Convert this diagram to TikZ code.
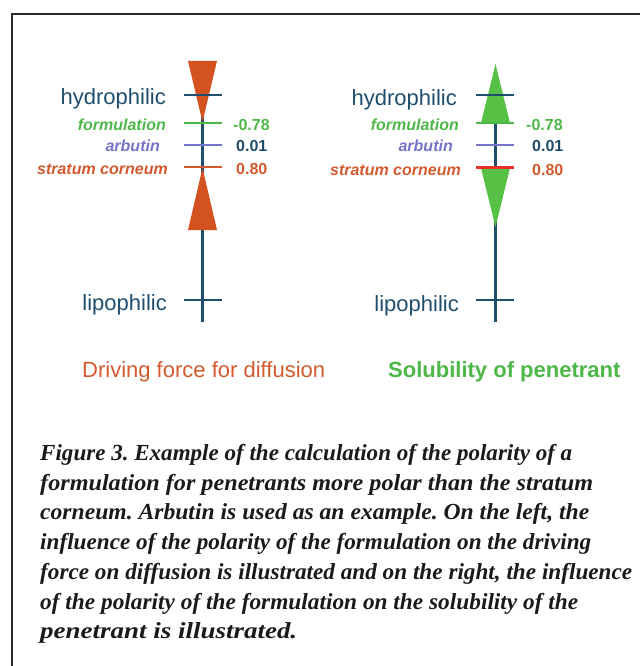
\documentclass[tikz,border=0pt]{standalone}
\usepackage{fontspec}
\setmainfont{Liberation Serif}
\setsansfont{Liberation Sans}
\usepackage{graphicx}
\frenchspacing
\definecolor{axisblue}{HTML}{1E4E6E}
\definecolor{labred}{HTML}{D35A2E}
\definecolor{trired}{HTML}{D4521F}
\definecolor{labgreen}{HTML}{4DB748}
\definecolor{trigreen}{HTML}{57C146}
\definecolor{arbpurple}{HTML}{7474C8}
\definecolor{brightred}{HTML}{E8302A}
\definecolor{framecol}{HTML}{2A2A2A}
\definecolor{capcol}{HTML}{1A1A1A}
\begin{document}
\begin{tikzpicture}[x=1pt,y=-1pt,
  lab/.style={font=\sffamily\fontsize{22}{22}\selectfont, text=axisblue, inner sep=0pt, anchor=base east},
  sub/.style={font=\sffamily\bfseries\itshape\fontsize{16}{16}\selectfont, inner sep=0pt, anchor=base east},
  num/.style={font=\sffamily\bfseries\fontsize{16}{16}\selectfont, inner sep=0pt, anchor=base west},
  bottomlab/.style={font=\sffamily\fontsize{22}{22}\selectfont, inner sep=0pt, anchor=base west},
  axisline/.style={draw=axisblue, line width=2.5pt},
  tickline/.style={line width=2.2pt},
  capline/.style={font=\bfseries\itshape\fontsize{23}{23}\selectfont, text=capcol, inner sep=0pt, anchor=base west}]
\useasboundingbox (0,0) rectangle (640,666);
% frame
\draw[framecol, line width=1.6pt] (12,666) -- (12,14) -- (640,14);

% ---------- left diagram ----------
\coordinate (Ltop) at (202.5,84);
\coordinate (Lbot) at (202.5,322);
\draw[axisline] (Ltop) -- (Lbot);
\fill[trired] (188,61) -- (217,61) -- (202.5,122) -- cycle;
\fill[trired] (202.5,168) -- (217,230) -- (188,230) -- cycle;
\coordinate (Lh1) at (184,95);  \coordinate (Lh2) at (222,95);
\coordinate (Lf1) at (184,123); \coordinate (Lf2) at (222,123);
\coordinate (La1) at (184,145); \coordinate (La2) at (222,145);
\coordinate (Ls1) at (184,167); \coordinate (Ls2) at (222,167);
\coordinate (Ll1) at (184,300); \coordinate (Ll2) at (222,300);
\draw[tickline, axisblue] (Lh1) -- (Lh2);
\draw[tickline, labgreen, line width=2pt] (Lf1) -- (Lf2);
\draw[tickline, arbpurple, line width=2pt] (La1) -- (La2);
\draw[tickline, labred, line width=2pt] (Ls1) -- (Ls2);
\draw[tickline, axisblue] (Ll1) -- (Ll2);
\node[lab] (Lhyd) at (166,105) {hydrophilic};
\node[sub, text=labgreen] (Lform) at (166,130) {formulation};
\node[sub, text=arbpurple] (Larb) at (160,151.5) {arbutin};
\node[sub, text=labred] (Lsc) at (168,174) {stratum corneum};
\node[lab] (Llip) at (167,310) {lipophilic};
\node[num, text=labgreen] (Lnf) at (233,130) {-0.78};
\node[num, text=axisblue] (Lna) at (236,151.5) {0.01};
\node[num, text=labred] (Lns) at (236,174) {0.80};
\node[bottomlab, text=labred] (Ltitle) at (82,377) {Driving force for diffusion};

% ---------- right diagram ----------
\coordinate (Rtop) at (495.5,84);
\coordinate (Rbot) at (495.5,322);
\draw[axisline] (Rtop) -- (Rbot);
\fill[trigreen] (495.5,64) -- (510,123) -- (481,123) -- cycle;
\fill[trigreen] (481,168) -- (510,168) -- (495.5,227) -- cycle;
\coordinate (Rh1) at (476,95);  \coordinate (Rh2) at (514,95);
\coordinate (Rf1) at (476,123); \coordinate (Rf2) at (514,123);
\coordinate (Ra1) at (476,145); \coordinate (Ra2) at (514,145);
\coordinate (Rs1) at (476,167.5); \coordinate (Rs2) at (514,167.5);
\coordinate (Rl1) at (476,300); \coordinate (Rl2) at (514,300);
\draw[tickline, axisblue] (Rh1) -- (Rh2);
\draw[tickline, labgreen, line width=2pt] (Rf1) -- (Rf2);
\draw[tickline, arbpurple, line width=2pt] (Ra1) -- (Ra2);
\draw[tickline, brightred, line width=3pt] (Rs1) -- (Rs2);
\draw[tickline, axisblue] (Rl1) -- (Rl2);
\node[lab] (Rhyd) at (457,106) {hydrophilic};
\node[sub, text=labgreen] (Rform) at (459,131) {formulation};
\node[sub, text=arbpurple] (Rarb) at (453,151.5) {arbutin};
\node[sub, text=labred] (Rsc) at (461,175) {stratum corneum};
\node[lab] (Rlip) at (459,311) {lipophilic};
\node[num, text=labgreen] (Rnf) at (526,131) {-0.78};
\node[num, text=axisblue] (Rna) at (532,151.5) {0.01};
\node[num, text=labred] (Rns) at (532,175) {0.80};
\node[bottomlab, text=labgreen, font=\sffamily\bfseries\fontsize{22}{22}\selectfont] (Rtitle) at (388,377) {Solubility of penetrant};

% ---------- caption ----------
\node[capline] (c1) at (40,460.5) {\resizebox{532pt}{\height}{Figure 3. Example of the calculation of the polarity of a}};
\node[capline] (c2) at (40,490.2) {\resizebox{553pt}{\height}{formulation for penetrants more polar than the stratum}};
\node[capline] (c3) at (40,519.9) {\resizebox{549pt}{\height}{corneum. Arbutin is used as an example. On the left, the}};
\node[capline] (c4) at (40,549.6) {\resizebox{551pt}{\height}{influence of the polarity of the formulation on the driving}};
\node[capline] (c5) at (40,579.3) {\resizebox{592pt}{\height}{force on diffusion is illustrated and on the right, the influence}};
\node[capline] (c6) at (40,609.0) {\resizebox{538pt}{\height}{of the polarity of the formulation on the solubility of the}};
\node[capline] (c7) at (40,638.7) {\resizebox{257pt}{\height}{penetrant is illustrated.}};
\end{tikzpicture}
\end{document}
